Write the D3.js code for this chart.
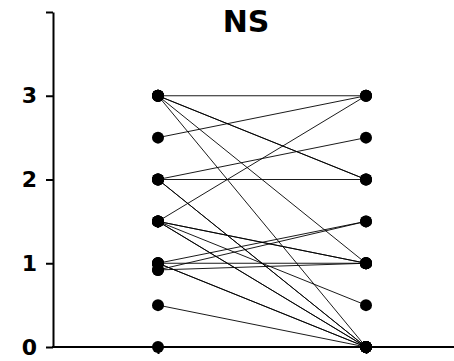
<!DOCTYPE html>
<html>
<head>
<meta charset="utf-8">
<script src="https://cdn.jsdelivr.net/npm/d3@7"></script>
<style>
  html, body { margin: 0; padding: 0; background: #fff; }
  svg { display: block; }
  .lbl { font-family: "Comic Sans MS", "DejaVu Sans", sans-serif; font-weight: bold; }
</style>
</head>
<body>
<svg id="chart" width="454" height="361"></svg>
<script>
// Paired scores per subject: first and second visit
const visits = ["first", "second"];
const firstScores  = [3, 3, 3, 3, 3, 2.5, 2, 2, 2, 2, 1.5, 1.5, 1.5, 1.5, 1.5, 1.5, 1, 1, 1, 1, 0.92, 0.92, 0.5, 0];
const secondScores = [3, 2, 2, 1, 0, 3,   2.5, 2, 0, 0, 3,   1,   1,   0.5, 0,   0,   1.5, 1, 0, 0, 1.5,  1,    0,   0];
const yTicks = [0, 1, 2, 3, 4];
const yTickLabels = ["0", "1", "2", "3", ""];
const title = "NS";

const svg = d3.select("#chart");
const W = 454;

const y = d3.scaleLinear().domain([0, 4]).range([347, 12]);
const x = d3.scalePoint().domain(visits).range([158, 366]);
const axisX = 53;

const pairs = firstScores.map((v, i) => ({ a: v, b: secondScores[i] }));

// connecting lines
svg.append("g")
  .selectAll("line")
  .data(pairs)
  .join("line")
  .attr("x1", x("first"))
  .attr("x2", x("second"))
  .attr("y1", d => y(d.a))
  .attr("y2", d => y(d.b))
  .attr("stroke", "#000")
  .attr("stroke-width", 0.9);

// y axis
const gy = svg.append("g")
  .attr("transform", `translate(${axisX},0)`)
  .call(d3.axisLeft(y)
    .tickValues(yTicks)
    .tickFormat((d, i) => yTickLabels[i])
    .tickSize(7)
    .tickSizeOuter(0)
    .tickPadding(9));
gy.select(".domain").attr("stroke-width", 2);
gy.selectAll(".tick line").attr("stroke-width", 2);
gy.selectAll(".tick text")
  .attr("class", "lbl")
  .attr("font-size", 22)
  .attr("fill", "#000");

// x axis
const gx = svg.append("g")
  .attr("transform", `translate(0,${y(0)})`)
  .call(d3.axisBottom(x).tickSize(7).tickFormat(""));
gx.select(".domain").remove();
gx.selectAll(".tick line").attr("stroke-width", 2);
gx.append("line")
  .attr("x1", axisX - 1).attr("x2", W)
  .attr("y1", 0).attr("y2", 0)
  .attr("stroke", "#000")
  .attr("stroke-width", 2);

// points
const pts = [];
pairs.forEach(p => { pts.push({ k: "first", v: p.a }); pts.push({ k: "second", v: p.b }); });
svg.append("g")
  .selectAll("circle")
  .data(pts)
  .join("circle")
  .attr("cx", d => x(d.k))
  .attr("cy", d => y(d.v))
  .attr("r", 6)
  .attr("fill", "#000");

// title
svg.append("text")
  .attr("class", "lbl")
  .attr("x", 246)
  .attr("y", 32)
  .attr("text-anchor", "middle")
  .attr("font-size", 30)
  .text(title);
</script>
</body>
</html>
